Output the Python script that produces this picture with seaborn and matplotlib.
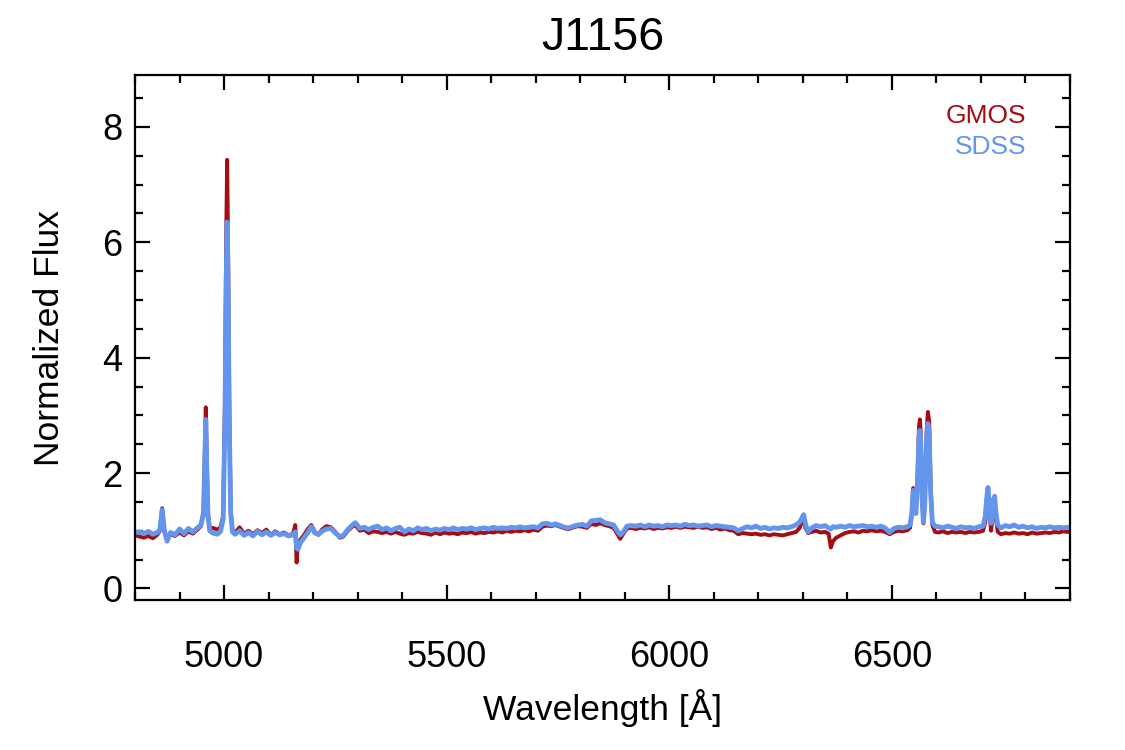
import numpy as np
import pandas as pd
import matplotlib
matplotlib.use("Agg")
import matplotlib.pyplot as plt
import seaborn as sns
from matplotlib.ticker import MultipleLocator

# Spectrum (wavelength in Angstrom, normalized flux)
wave = [
    4800, 4810, 4820, 4830, 4840, 4850, 4856, 4861, 4866, 4872, 4880, 4890, 4900, 4910, 4920, 4930, 4940,
    4948, 4954, 4957, 4959, 4961, 4964, 4968, 4975, 4985, 4992, 4998, 5002, 5005, 5007, 5009, 5012, 5015,
    5019, 5025, 5035, 5045, 5055, 5065, 5075, 5085, 5095, 5105, 5115, 5125, 5135, 5145, 5155, 5160, 5163,
    5166, 5172, 5180, 5188, 5196, 5204, 5212, 5220, 5230, 5240, 5250, 5260, 5268, 5278, 5288, 5295, 5305,
    5315, 5325, 5335, 5345, 5355, 5365, 5375, 5385, 5395, 5405, 5415, 5425, 5435, 5445, 5455, 5465, 5475,
    5485, 5495, 5505, 5515, 5525, 5535, 5545, 5555, 5565, 5575, 5585, 5595, 5605, 5615, 5625, 5635, 5645,
    5655, 5665, 5675, 5685, 5695, 5705, 5715, 5725, 5735, 5745, 5755, 5765, 5775, 5785, 5795, 5805, 5815,
    5825, 5835, 5845, 5855, 5865, 5875, 5883, 5890, 5897, 5905, 5915, 5925, 5935, 5945, 5955, 5965, 5975,
    5985, 5995, 6005, 6015, 6025, 6035, 6045, 6055, 6065, 6075, 6085, 6095, 6105, 6115, 6125, 6135, 6145,
    6155, 6165, 6175, 6185, 6195, 6205, 6215, 6225, 6235, 6245, 6255, 6265, 6275, 6285, 6293, 6298, 6302,
    6306, 6312, 6320, 6330, 6340, 6350, 6358, 6363, 6368, 6375, 6385, 6395, 6405, 6415, 6425, 6435, 6445,
    6455, 6465, 6475, 6485, 6495, 6505, 6515, 6525, 6535, 6541, 6545, 6548, 6551, 6554, 6558, 6561, 6563,
    6565, 6568, 6571, 6574, 6578, 6581, 6584, 6587, 6591, 6597, 6605, 6615, 6625, 6635, 6645, 6655, 6665,
    6675, 6685, 6695, 6705, 6710, 6713, 6716, 6719, 6723, 6726, 6729, 6731, 6734, 6738, 6745, 6755, 6765,
    6775, 6785, 6795, 6805, 6815, 6825, 6835, 6845, 6855, 6865, 6875, 6885, 6895, 6905,
]

gmos = [
    0.92, 0.90, 0.88, 0.91, 0.87, 0.93, 1.00, 1.39, 0.98, 0.88, 0.94, 0.91, 0.97, 0.92, 0.99, 0.95, 1.02,
    1.08, 1.35, 2.40, 3.14, 2.30, 1.30, 1.02, 1.05, 1.02, 1.06, 1.25, 3.20, 6.20, 7.43, 6.00, 3.00, 1.35,
    1.00, 0.97, 1.06, 0.95, 1.00, 0.94, 1.01, 0.96, 1.02, 0.93, 0.99, 0.94, 0.97, 0.92, 0.95, 1.10, 0.45,
    0.78, 0.85, 0.93, 1.03, 1.10, 0.98, 0.93, 1.02, 1.08, 1.06, 0.98, 0.88, 0.90, 1.00, 1.07, 1.10, 1.00,
    1.02, 0.96, 0.99, 0.98, 0.96, 0.98, 0.95, 0.98, 0.95, 0.93, 0.96, 0.95, 0.98, 0.96, 0.95, 0.93, 0.97,
    0.94, 0.97, 0.95, 0.96, 0.94, 0.97, 0.96, 0.98, 0.95, 0.97, 0.96, 0.98, 0.97, 0.99, 0.97, 1.00, 0.98,
    1.00, 0.99, 1.01, 0.99, 1.02, 1.00, 1.07, 1.09, 1.08, 1.10, 1.07, 1.04, 1.03, 1.06, 1.08, 1.07, 1.05,
    1.12, 1.10, 1.13, 1.10, 1.08, 1.05, 0.95, 0.86, 0.95, 1.04, 1.05, 1.03, 1.05, 1.04, 1.06, 1.03, 1.05,
    1.04, 1.06, 1.05, 1.07, 1.05, 1.07, 1.06, 1.05, 1.07, 1.05, 1.06, 1.03, 1.05, 1.02, 1.04, 1.01, 1.00,
    0.94, 0.96, 0.95, 0.94, 0.95, 0.93, 0.94, 0.92, 0.94, 0.93, 0.92, 0.94, 0.96, 0.98, 1.05, 1.15, 1.22,
    1.05, 0.96, 0.98, 1.00, 0.97, 0.98, 0.95, 0.71, 0.82, 0.88, 0.92, 0.96, 0.98, 0.99, 0.97, 1.00, 0.99,
    1.01, 0.99, 1.00, 0.98, 0.94, 0.98, 1.00, 0.99, 1.01, 1.05, 1.30, 1.74, 1.45, 1.30, 2.00, 2.80, 2.93,
    2.70, 1.60, 1.13, 1.50, 2.70, 3.06, 2.90, 1.80, 1.10, 0.98, 0.97, 0.99, 0.96, 0.98, 0.97, 0.98, 0.96,
    0.98, 0.97, 0.98, 1.00, 1.15, 1.45, 1.60, 1.35, 1.00, 1.20, 1.45, 1.48, 1.20, 0.98, 0.94, 0.96, 0.95,
    0.97, 0.95, 0.96, 0.94, 0.97, 0.95, 0.96, 0.97, 0.96, 0.98, 0.97, 0.99, 0.98, 0.99,
]

sdss = [
    0.97, 0.98, 0.95, 0.99, 0.94, 0.97, 1.02, 1.36, 1.00, 0.82, 0.97, 0.93, 1.03, 0.95, 1.04, 0.98, 1.05,
    1.10, 1.30, 2.25, 2.93, 2.15, 1.25, 1.00, 0.96, 0.94, 0.99, 1.20, 2.90, 5.40, 6.35, 5.30, 2.70, 1.30,
    0.98, 0.94, 1.00, 0.92, 0.97, 0.91, 0.99, 0.93, 0.98, 0.92, 0.97, 0.93, 0.95, 0.91, 0.93, 0.98, 0.70,
    0.68, 0.80, 0.88, 0.97, 1.07, 0.96, 0.94, 0.99, 1.03, 1.04, 0.96, 0.90, 0.92, 1.02, 1.10, 1.14, 1.04,
    1.06, 1.02, 1.06, 1.08, 1.02, 1.05, 1.00, 1.04, 1.06, 0.98, 1.03, 1.00, 1.05, 1.02, 1.04, 1.00, 1.03,
    1.01, 1.04, 1.02, 1.05, 1.02, 1.04, 1.03, 1.05, 1.02, 1.04, 1.05, 1.03, 1.06, 1.04, 1.05, 1.04, 1.06,
    1.05, 1.07, 1.05, 1.06, 1.07, 1.05, 1.12, 1.13, 1.10, 1.12, 1.09, 1.06, 1.05, 1.08, 1.10, 1.11, 1.08,
    1.17, 1.18, 1.19, 1.14, 1.12, 1.10, 1.00, 0.93, 0.98, 1.08, 1.09, 1.08, 1.10, 1.07, 1.10, 1.08, 1.09,
    1.07, 1.10, 1.09, 1.10, 1.08, 1.11, 1.09, 1.10, 1.08, 1.09, 1.10, 1.07, 1.09, 1.08, 1.07, 1.06, 1.05,
    1.00, 1.04, 1.07, 1.05, 1.08, 1.04, 1.06, 1.03, 1.05, 1.04, 1.06, 1.05, 1.07, 1.10, 1.15, 1.22, 1.28,
    1.12, 0.98, 1.05, 1.09, 1.07, 1.09, 1.05, 1.03, 1.07, 1.06, 1.08, 1.06, 1.09, 1.07, 1.08, 1.09, 1.07,
    1.08, 1.06, 1.08, 1.05, 0.97, 1.04, 1.06, 1.05, 1.07, 1.10, 1.30, 1.70, 1.45, 1.30, 1.90, 2.62, 2.74,
    2.55, 1.55, 1.15, 1.45, 2.55, 2.86, 2.70, 1.70, 1.15, 1.08, 1.07, 1.05, 1.08, 1.06, 1.04, 1.07, 1.05,
    1.06, 1.04, 1.07, 1.08, 1.25, 1.55, 1.75, 1.45, 1.13, 1.30, 1.55, 1.60, 1.30, 1.10, 1.05, 1.09, 1.07,
    1.10, 1.06, 1.08, 1.05, 1.07, 1.04, 1.06, 1.05, 1.07, 1.05, 1.06, 1.05, 1.06, 1.05,
]

series_names = ["GMOS", "SDSS"]
series_colors = ["#a50d12", "#6495ed"]

df = pd.DataFrame({"wave": wave, "GMOS": gmos, "SDSS": sdss})

sns.set_style("ticks")
plt.rcParams["font.family"] = ["Liberation Sans", "DejaVu Sans"]
plt.rcParams.update({"text.color": "black", "axes.labelcolor": "black",
                     "xtick.color": "black", "ytick.color": "black"})

fig = plt.figure(figsize=(11.25, 7.5), dpi=100)
ax = fig.add_axes([0.12, 0.2, 0.831, 0.70])

sns.lineplot(data=df, x="wave", y="GMOS", ax=ax, color=series_colors[0], lw=2.8, sort=False)
sns.lineplot(data=df, x="wave", y="SDSS", ax=ax, color=series_colors[1], lw=3.5, sort=False)

ax.set_xlim(4800, 6900)
ax.set_ylim(-0.2, 8.9)
ax.xaxis.set_major_locator(MultipleLocator(500))
ax.xaxis.set_minor_locator(MultipleLocator(100))
ax.yaxis.set_major_locator(MultipleLocator(2))
ax.yaxis.set_minor_locator(MultipleLocator(0.5))
ax.tick_params(which="both", direction="in", top=True, right=True, width=1.6, labelsize=26)
ax.tick_params(axis="x", which="major", pad=29)
ax.tick_params(axis="y", which="major", pad=9)
ax.tick_params(which="major", length=11)
ax.tick_params(which="minor", length=5.5)
for sp in ax.spines.values():
    sp.set_linewidth(1.6)
    sp.set_color("black")

ax.set_xlabel("Wavelength [Å]", fontsize=25.5, labelpad=10)
ax.set_ylabel("Normalized Flux", fontsize=25.5, labelpad=26)
ax.set_title("J1156", fontsize=33.5, pad=18)

ax.text(0.953, 0.922, series_names[0], transform=ax.transAxes, ha="right", va="center",
        fontsize=19, color=series_colors[0])
ax.text(0.953, 0.862, series_names[1], transform=ax.transAxes, ha="right", va="center",
        fontsize=19, color=series_colors[1])

fig.savefig("out.png", dpi=100)
